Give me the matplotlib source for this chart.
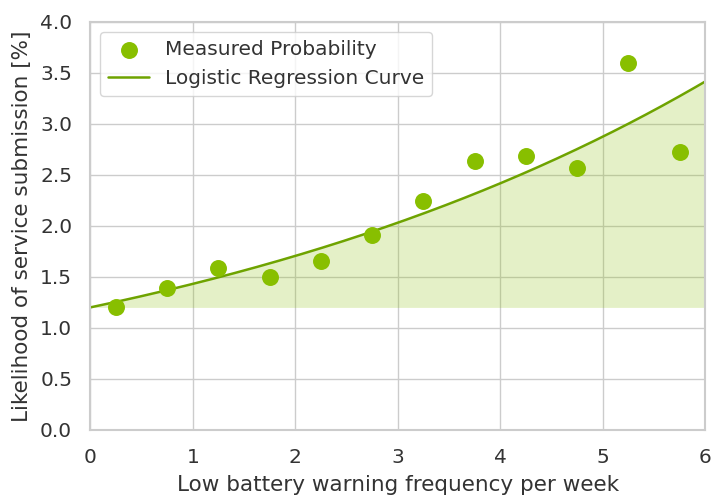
import numpy as np
import matplotlib.pyplot as plt
import seaborn as sns

# measured points (bin centres of warnings per week)
warn_freq = [0.25, 0.75, 1.25, 1.75, 2.25, 2.75, 3.25, 3.75, 4.25, 4.75, 5.25, 5.75]
measured_pct = [1.20, 1.39, 1.59, 1.50, 1.66, 1.91, 2.24, 2.64, 2.69, 2.57, 3.60, 2.72]

# fitted logistic regression coefficients (logit scale)
intercept = -4.41
slope = 0.178

x_ticks = [0, 1, 2, 3, 4, 5, 6]
y_ticks = [0.0, 0.5, 1.0, 1.5, 2.0, 2.5, 3.0, 3.5, 4.0]

sns.set_theme(style="whitegrid")
plt.rcParams['font.family'] = ['DejaVu Sans']

point_color = "#88bf00"
line_color = "#6ea300"

fig, ax = plt.subplots(figsize=(7.11, 4.97), dpi=100)
fig.subplots_adjust(left=0.127, right=0.992, top=0.956, bottom=0.135)

xs = np.linspace(0, 6, 300)
curve = 100 / (1 + np.exp(-(intercept + slope * xs)))

ax.fill_between(xs, curve, curve[0], color=point_color, alpha=0.22, linewidth=0)
ax.scatter(warn_freq, measured_pct, s=125, color=point_color, zorder=3,
           label="Measured Probability")
ax.plot(xs, curve, color=line_color, lw=1.8, label="Logistic Regression Curve")

ax.set_xlim(0, 6)
ax.set_ylim(0, 4)
ax.set_xticks(x_ticks)
ax.set_yticks(y_ticks)
ax.set_xticklabels([str(t) for t in x_ticks])
ax.set_yticklabels([f"{t:.1f}" for t in y_ticks])
ax.tick_params(labelsize=14.5, colors="#333333", pad=7)
ax.set_xlabel("Low battery warning frequency per week", fontsize=15.5,
              color="#333333", labelpad=6)
ax.set_ylabel("Likelihood of service submission [%]", fontsize=15.5,
              color="#333333", labelpad=6)

for sp in ax.spines.values():
    sp.set_color("#cccccc")
    sp.set_linewidth(1.5)

leg = ax.legend(loc="upper left", fontsize=14.5, frameon=True)
for t in leg.get_texts():
    t.set_color("#333333")

fig.savefig("out.png", dpi=100)
